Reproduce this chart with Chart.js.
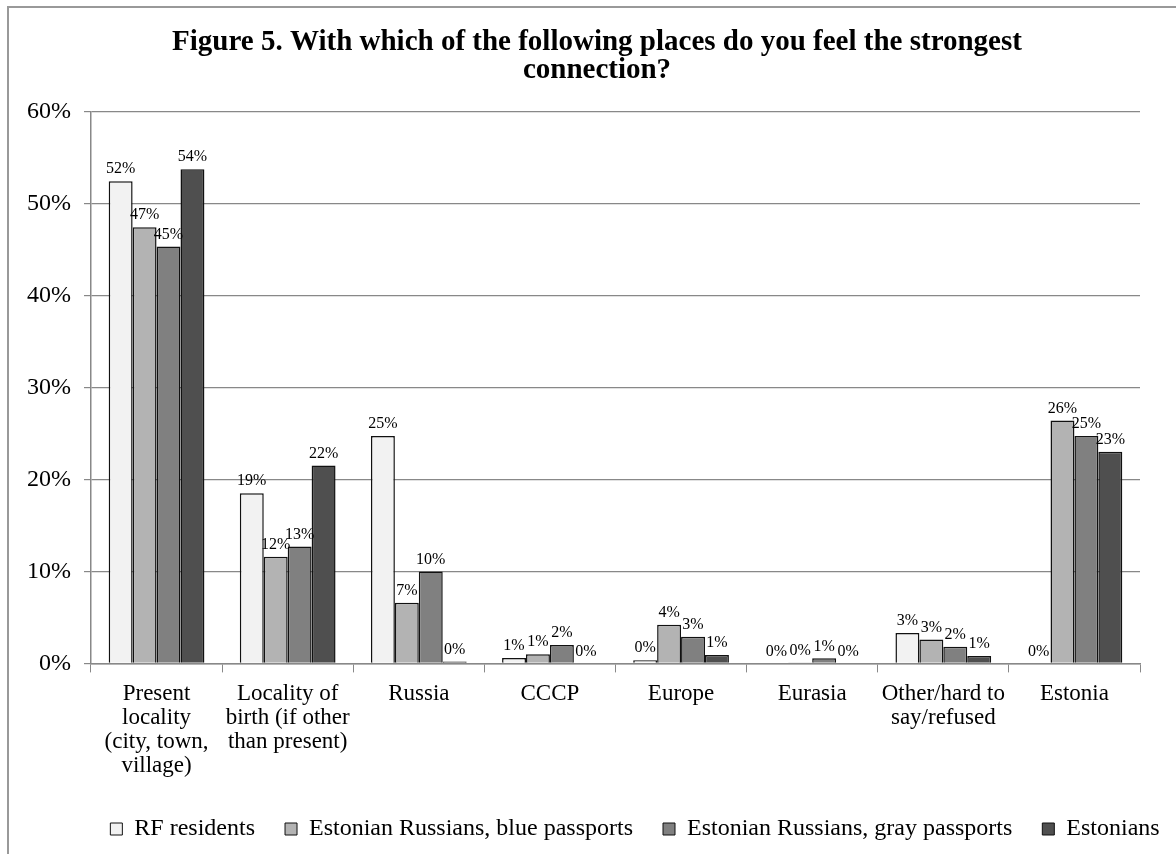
<!DOCTYPE html>
<html>
<head>
<meta charset="utf-8">
<script src="https://cdn.jsdelivr.net/npm/chart.js@4"></script>
<style>
    body { margin: 0; background: #fff; }
    #wrap { width: 1176px; height: 854px; }
</style>
</head>
<body>
<div id="wrap"><canvas id="placesChart"></canvas></div>
<script>
// Categories (x axis), multi-line like the original
const categories = [
    ['Present', 'locality', '(city, town,', 'village)'],
    ['Locality of', 'birth (if other', 'than present)'],
    'Russia',
    'CCCP',
    'Europe',
    'Eurasia',
    ['Other/hard to', 'say/refused'],
    'Estonia'
];

// Series values, percent
const rfResidents = [52.4, 18.5, 24.7, 0.6, 0.35, 0, 3.3, 0];
const blueRussians = [47.4, 11.6, 6.6, 1.0, 4.2, 0.1, 2.6, 26.4];
const grayRussians = [45.3, 12.7, 10.0, 2.0, 2.9, 0.55, 1.8, 24.7];
const estonians = [53.7, 21.5, 0.2, 0, 0.9, 0, 0.8, 23.0];

const seriesNames = ['RF residents', 'Estonian Russians, blue passports', 'Estonian Russians, gray passports', 'Estonians'];
const seriesColors = ['#f2f2f2', '#b3b3b3', '#808080', '#4f4f4f'];
const yTicks = [0, 10, 20, 30, 40, 50, 60];

const serif = "'Liberation Serif', 'Times New Roman', serif";

// Draw value labels above each bar
const barLabels = {
    id: 'barLabels',
    afterDatasetsDraw(chart) {
        const ctx = chart.ctx;
        ctx.save();
        ctx.font = '16px ' + serif;
        ctx.fillStyle = '#000';
        ctx.textAlign = 'center';
        ctx.textBaseline = 'bottom';
        chart.data.datasets.forEach(function (ds, i) {
            chart.getDatasetMeta(i).data.forEach(function (bar, j) {
                ctx.fillText(Math.round(ds.data[j]) + '%', bar.x, bar.y - 4);
            });
        });
        ctx.restore();
    }
};

// Thin frame round the chart, like the original
const frame = {
    id: 'frame',
    beforeDraw(chart) {
        const ctx = chart.ctx;
        ctx.save();
        ctx.strokeStyle = '#999';
        ctx.lineWidth = 2;
        ctx.strokeRect(8, 7, chart.width + 10, chart.height + 10);
        ctx.restore();
    }
};

// Title and legend sit a bit right of the plot centre in the original
const nudge = {
    id: 'nudge',
    afterLayout(chart) {
        chart.titleBlock.left += 20;
        chart.titleBlock.right += 20;
        chart.legend.left += 58;
        chart.legend.right += 58;
    }
};

const datasets = [rfResidents, blueRussians, grayRussians, estonians].map(function (values, i) {
    return {
        label: seriesNames[i],
        data: values,
        backgroundColor: seriesColors[i],
        borderColor: '#111',
        borderWidth: 1.5,
        categoryPercentage: 0.73,
        barPercentage: 1.0
    };
});

new Chart(document.getElementById('placesChart'), {
    type: 'bar',
    data: { labels: categories, datasets: datasets },
    plugins: [frame, barLabels, nudge],
    options: {
        responsive: true,
        maintainAspectRatio: false,
        animation: false,
        layout: { padding: { top: 12, left: 14, right: 36, bottom: 3 } },
        plugins: {
            title: {
                display: true,
                text: ['Figure 5. With which of the following places do you feel the strongest', 'connection?'],
                color: '#000',
                font: { family: serif, size: 29, weight: 'bold', lineHeight: 0.97 },
                padding: { top: 16, bottom: 27 }
            },
            legend: {
                position: 'bottom',
                labels: {
                    color: '#000',
                    font: { family: serif, size: 24 },
                    boxWidth: 12,
                    boxHeight: 12,
                    padding: 30,
                    generateLabels(chart) {
                        return chart.data.datasets.map(function (ds, i) {
                            return {
                                text: ds.label,
                                fillStyle: ds.backgroundColor,
                                strokeStyle: '#111',
                                lineWidth: 1,
                                datasetIndex: i
                            };
                        });
                    }
                }
            },
            tooltip: { enabled: false }
        },
        scales: {
            x: {
                grid: { display: true, drawOnChartArea: false, color: '#888', tickLength: 9 },
                border: { color: '#888', width: 1.5 },
                ticks: {
                    color: '#000',
                    font: { family: serif, size: 23, lineHeight: 1.05 },
                    maxRotation: 0,
                    autoSkip: false,
                    padding: 9
                }
            },
            y: {
                min: 0,
                max: 60,
                afterBuildTicks(axis) {
                    axis.ticks = yTicks.map(function (v) { return { value: v }; });
                },
                grid: { color: '#888', lineWidth: 1.2, tickLength: 7 },
                border: { color: '#888', width: 1.5 },
                ticks: {
                    color: '#000',
                    font: { family: serif, size: 24 },
                    padding: 13,
                    callback: function (v) { return v + '%'; }
                }
            }
        }
    }
});
</script>
</body>
</html>
